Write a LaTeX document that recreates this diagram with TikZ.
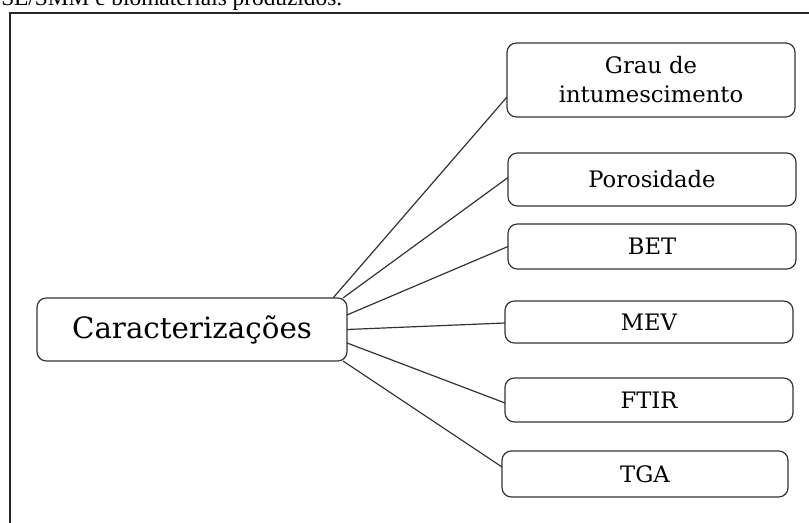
\documentclass[tikz,border=0pt]{standalone}
\usepackage{fontspec}
\setmainfont{DejaVu Serif}
\newfontfamily\legendafont{Liberation Serif}

\tikzset{
  itembox/.style={draw=black!80, line width=0.9pt, rounded corners=7pt, inner sep=0pt, outer sep=0pt,
    minimum width=216pt, align=center, font=\fontsize{17}{21.75}\selectfont},
  ligacao/.style={draw=black!80, line width=0.9pt}
}

\begin{document}
\begin{tikzpicture}[x=0.75pt, y=-0.75pt]
		\useasboundingbox (0,0) rectangle (809,523);
		\clip (0,0) rectangle (809,523);
		\node [anchor=base west, inner sep=0pt, font=\legendafont\fontsize{17.5}{19}\selectfont] (legenda) at (1,6) {SE/SMM e biomateriais produzidos.};
		\draw [line width=1.2pt, black!85] (10,540) -- (10,13) -- (830,13);
		% caixa central
		\node [itembox, minimum width=232.5pt, minimum height=47.25pt, font=\fontsize{22}{24}\selectfont] (car) at (192,329.5) {Caracterizações};
		% caixas da direita
		\node [itembox, minimum height=55.5pt] (grau) at (651,80) {Grau de\\intumescimento};
		\node [itembox, minimum height=39.75pt] (poro) at (652,179.5) {Porosidade};
		\node [itembox, minimum height=33.75pt] (bet) at (652,246.5) {BET};
		\node [itembox, minimum height=31.5pt] (mev) at (649,322) {MEV};
		\node [itembox, minimum height=33pt] (ftir) at (649,400) {FTIR};
		\node [itembox, minimum width=214.5pt, minimum height=34.5pt] (tga) at (645,474) {TGA};
		% ligacoes
		\draw [ligacao] ([xshift=-10.5pt]car.north east) -- ([yshift=-12.75pt]grau.west);
		\draw [ligacao] ([xshift=-3pt]car.north east) -- ([yshift=1.5pt]poro.west);
		\draw [ligacao] ([yshift=10.9pt]car.east) -- (bet.west);
		\draw [ligacao] (car.east) -- ([yshift=-0.75pt]mev.west);
		\draw [ligacao] ([yshift=-10.1pt]car.east) -- ([yshift=-2.25pt]ftir.west);
		\draw [ligacao] ([xshift=-3pt]car.south east) -- ([yshift=5.25pt]tga.west);
	\end{tikzpicture}
\end{document}
